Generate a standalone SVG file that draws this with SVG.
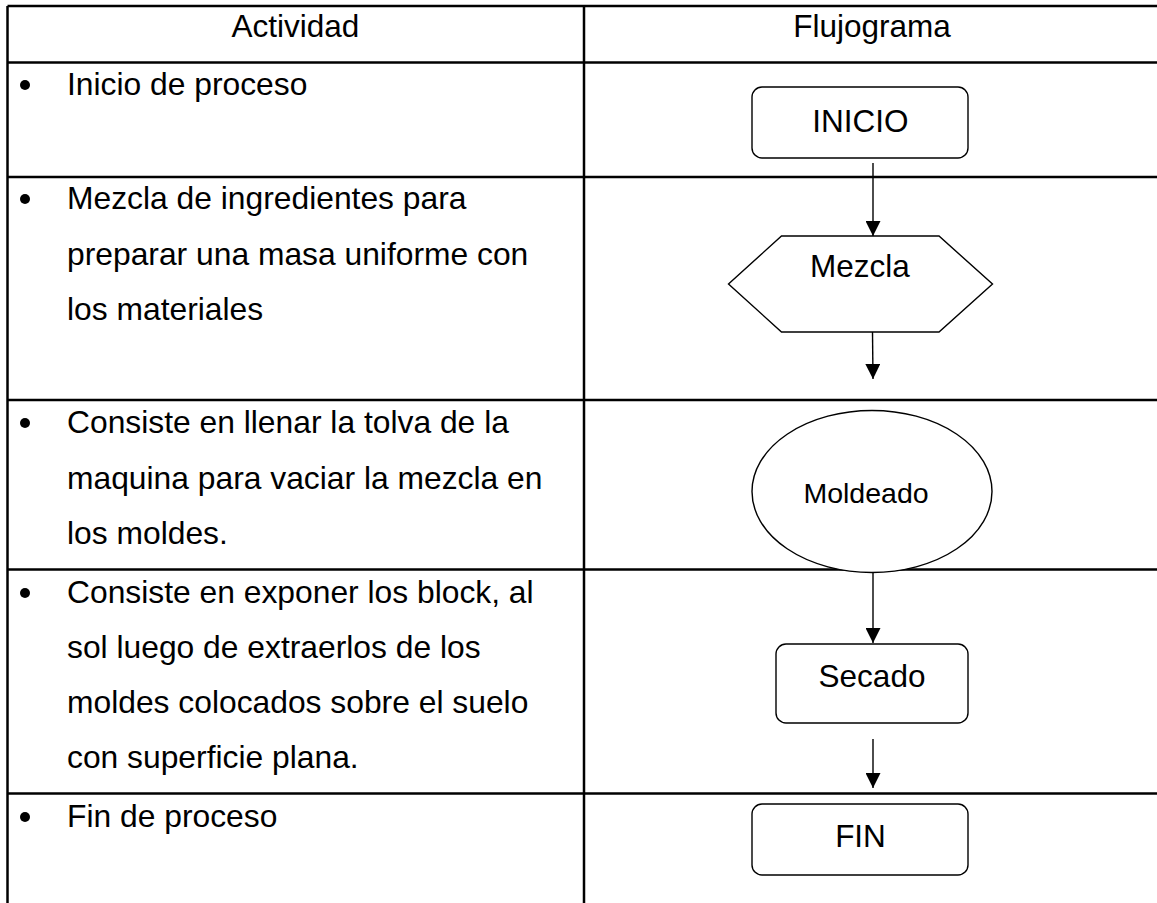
<svg xmlns="http://www.w3.org/2000/svg" width="1157" height="903" viewBox="0 0 1157 903">
<defs>
<style>
.tbl{stroke:#000;stroke-width:2.5;fill:none}
.shape{stroke:#000;stroke-width:1.4;fill:#fff}
.conn{stroke:#000;stroke-width:1.4;fill:none}
.t{font-family:"Liberation Sans",Arial,sans-serif;font-size:31.5px;fill:#000}
.l{font-size:31.8px}
.c{text-anchor:middle}
.bul{fill:#000}
</style>
<marker id="arr" markerUnits="userSpaceOnUse" markerWidth="15" markerHeight="15" refX="15" refY="7.5" orient="auto" viewBox="0 0 15 15">
<path d="M0,0 L15,7.5 L0,15 z" fill="#000"/>
</marker>
</defs>
<rect width="1157" height="903" fill="#fff"/>
<g id="table">
<line class="tbl" x1="7.5" y1="6" x2="1157" y2="6"/>
<line class="tbl" x1="7.5" y1="6" x2="7.5" y2="903"/>
<line class="tbl" x1="584" y1="6" x2="584" y2="903"/>
<line class="tbl" x1="7.5" y1="62.5" x2="1157" y2="62.5"/>
<line class="tbl" x1="7.5" y1="177" x2="1157" y2="177"/>
<line class="tbl" x1="7.5" y1="400" x2="1157" y2="400"/>
<line class="tbl" x1="7.5" y1="569.5" x2="1157" y2="569.5"/>
<line class="tbl" x1="7.5" y1="793.5" x2="1157" y2="793.5"/>
<text class="t c" x="295.5" y="37">Actividad</text>
<text class="t c" x="872" y="37">Flujograma</text>
</g>
<g id="actividades">
<circle class="bul" cx="25" cy="85" r="5"/>
<text class="t l" x="67" y="95">Inicio de proceso</text>
<circle class="bul" cx="25" cy="199" r="5"/>
<text class="t l" x="67" y="209">Mezcla de ingredientes para</text>
<text class="t l" x="67" y="265">preparar una masa uniforme con</text>
<text class="t l" x="67" y="320">los materiales</text>
<circle class="bul" cx="25" cy="423" r="5"/>
<text class="t l" x="67" y="433">Consiste en llenar la tolva de la</text>
<text class="t l" x="67" y="489">maquina para vaciar la mezcla en</text>
<text class="t l" x="67" y="544">los moldes.</text>
<circle class="bul" cx="25" cy="593" r="5"/>
<text class="t l" x="67" y="603">Consiste en exponer los block, al</text>
<text class="t l" x="67" y="658">sol luego de extraerlos de los</text>
<text class="t l" x="67" y="713">moldes colocados sobre el suelo</text>
<text class="t l" x="67" y="768">con superficie plana.</text>
<circle class="bul" cx="25" cy="817" r="5"/>
<text class="t l" x="67" y="827">Fin de proceso</text>
</g>
<g id="connectors">
<line class="conn" x1="873" y1="163" x2="873" y2="236" marker-end="url(#arr)"/>
<line class="conn" x1="872.5" y1="332" x2="873" y2="379" marker-end="url(#arr)"/>
<line class="conn" x1="873" y1="572" x2="873" y2="643" marker-end="url(#arr)"/>
<line class="conn" x1="873" y1="739" x2="873" y2="788" marker-end="url(#arr)"/>
</g>
<g id="node-inicio">
<rect class="shape" x="752" y="87" width="216" height="71" rx="10"/>
<text class="t c" x="860.5" y="131.5">INICIO</text>
</g>
<g id="node-mezcla">
<polygon class="shape" points="781.5,236 939,236 992.5,284 939,332 781.5,332 728.5,284"/>
<text class="t c" x="860" y="276.5">Mezcla</text>
</g>
<g id="node-moldeado">
<ellipse class="shape" cx="872" cy="491.5" rx="120" ry="81"/>
<text class="t c" x="866" y="502.5" style="font-size:28.5px">Moldeado</text>
</g>
<g id="node-secado">
<rect class="shape" x="776" y="644" width="192" height="79" rx="10"/>
<text class="t c" x="872" y="686.5">Secado</text>
</g>
<g id="node-fin">
<rect class="shape" x="752" y="804" width="216" height="71" rx="10"/>
<text class="t c" x="860.5" y="846.5">FIN</text>
</g>
</svg>
